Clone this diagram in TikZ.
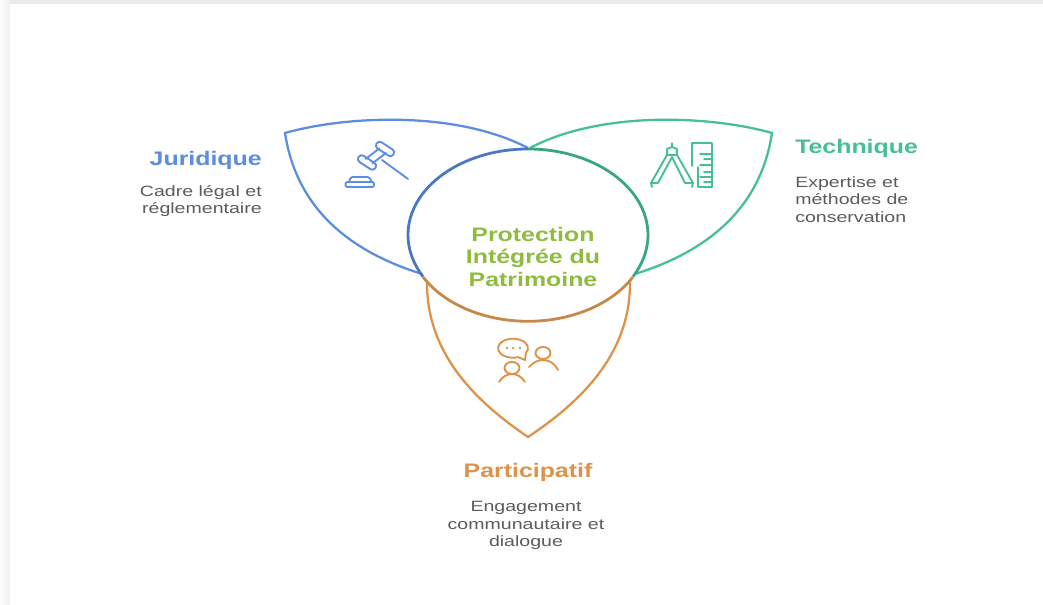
\documentclass[tikz,border=0pt]{standalone}
\usepackage{fontspec}
\setmainfont{Liberation Sans}
\newfontfamily\widefont[FakeStretch=1.27]{Liberation Sans}
\newfontfamily\descfont[FakeStretch=1.31]{Liberation Sans}
\usetikzlibrary{positioning}
\definecolor{jurblue}{HTML}{5C8DE0}
\definecolor{jurdark}{HTML}{4A78C4}
\definecolor{tecgreen}{HTML}{45C096}
\definecolor{tecdark}{HTML}{3AA584}
\definecolor{parorange}{HTML}{DD9248}
\definecolor{pardark}{HTML}{C88848}
\definecolor{cenolive}{HTML}{8FBC3F}
\definecolor{txtgrey}{HTML}{5C5C5C}
\tikzset{
  title/.style={font=\widefont\fontsize{14.7}{17.2}\selectfont\bfseries, inner sep=0pt},
  desc/.style={font=\descfont\fontsize{11.2}{13.2}\selectfont, text=txtgrey, inner sep=0pt},
  petal/.style={line width=1.7pt, line join=miter},
  rim/.style={line width=2.1pt},
  icon/.style={line width=1.4pt, line cap=round, line join=round}
}
\begin{document}
\begin{tikzpicture}[x=0.75pt,y=0.75pt]
  \useasboundingbox (0,0) rectangle (1043,605);
  % page edge
  \shade[left color=black!1, right color=black!6] (0,0) rectangle (10,605);
  \fill[black!8] (10,601) rectangle (1043,605);
  \fill[white] (10,0) rectangle (1043,601);

  % corners of the petals
  \coordinate (jur_a) at (285,472);
  \coordinate (jur_b) at (528,457);
  \coordinate (jur_c) at (422,331);
  \coordinate (tec_a) at (772,472);
  \coordinate (tec_b) at (530,457);
  \coordinate (tec_c) at (635,331);
  \coordinate (par_a) at (427,324);
  \coordinate (par_b) at (528,168);
  \coordinate (par_c) at (630,324);

  % petals
  \draw[petal, jurblue] (jur_b) .. controls (455,495) and (345,489) .. (jur_a)
    .. controls (296,400) and (345,355) .. (jur_c);
  \draw[petal, tecgreen] (tec_b) .. controls (602,495) and (712,489) .. (tec_a)
    .. controls (761,400) and (712,355) .. (tec_c);
  \draw[petal, parorange] (par_a) .. controls (426,250) and (478,202) .. (par_b)
    .. controls (579,202) and (631,250) .. (par_c);

  % centre
  \draw[rim, jurdark] (528,456) arc[start angle=90, end angle=209, x radius=120, y radius=86];
  \draw[rim, tecdark] (528,456) arc[start angle=90, end angle=-29, x radius=120, y radius=86];
  \draw[rim, pardark] (423,328) arc[start angle=209, end angle=331, x radius=120, y radius=86];

  \node[title, text=cenolive, align=center] (centre) at (533,348) {Protection\\Intégrée du\\Patrimoine};

  % labels
  \node[title, text=jurblue, anchor=east] (jur_t) at (262,444.5) {Juridique};
  \node[desc, anchor=north east, align=right] (jur_d) at (262,420) {Cadre légal et\\réglementaire};
  \node[title, text=tecgreen, anchor=west] (tec_t) at (795,456.5) {Technique};
  \node[desc, anchor=north west, align=left] (tec_d) at (795,429) {Expertise et\\méthodes de\\conservation};
  \node[title, text=parorange] (par_t) at (528,132.5) {Participatif};
  \node[desc, align=center, anchor=north] (par_d) at (526,104) {Engagement\\communautaire et\\dialogue};

  % gavel
  \begin{scope}[icon, jurblue]
    \draw[rounded corners=2.5pt, rotate around={-33:(385,456)}] (375,452.3) rectangle (395,459.7);
    \draw[rounded corners=2.5pt, rotate around={-33:(367,442.5)}] (357,438.8) rectangle (377,446.2);
    \draw (372.4,441.6) -- (386,452);
    \draw (365.6,446) -- (379.2,456.4);
    \draw (382,445) -- (408,426);
    \draw[rounded corners=1.5pt] (345.5,418) rectangle (374,423);
    \draw[rounded corners=1pt] (349,423) -- (351,428) -- (369,428) -- (372,423);
  \end{scope}

  % compass and ruler
  \begin{scope}[icon, tecgreen]
    \draw (672,462) -- (672,458);
    \draw (667,450) -- (667,456) -- (672,458) -- (677,456) -- (677,450) -- cycle;
    \draw (667,450) -- (651,422) -- (658,422) -- (672,448) -- (685,422) -- (693,422) -- (677,450);
    \draw (651,422) -- (652,418);
    \draw (693,422) -- (692,418);
    \draw (692,439) -- (692,462) -- (712,462) -- (712,418) -- (698,418) -- (698,438);
    \foreach \y/\l in {451/12,446/8,440/12,433/8,428/12,423/8}
      \draw (712,\y) -- ++(-\l,0);
  \end{scope}

  % people
  \begin{scope}[icon, parorange]
    \draw (526,252) arc[start angle=-30, end angle=290, x radius=15, y radius=9.5] -- (525,245) -- cycle;
    \fill (507,257) circle (1.3);
    \fill (513,257) circle (1.3);
    \fill (520,257) circle (1.3);
    \draw (543,252) ellipse [x radius=7.5, y radius=6];
    \draw (529,238) .. controls (534,243) and (538,245) .. (543,245) .. controls (550,245) and (555,241) .. (558,235);
    \draw (512,237) ellipse [x radius=7.5, y radius=6];
    \draw (499,223) .. controls (502,228) and (507,231) .. (512,231) .. controls (517,231) and (522,228) .. (525,223);
  \end{scope}
\end{tikzpicture}
\end{document}
